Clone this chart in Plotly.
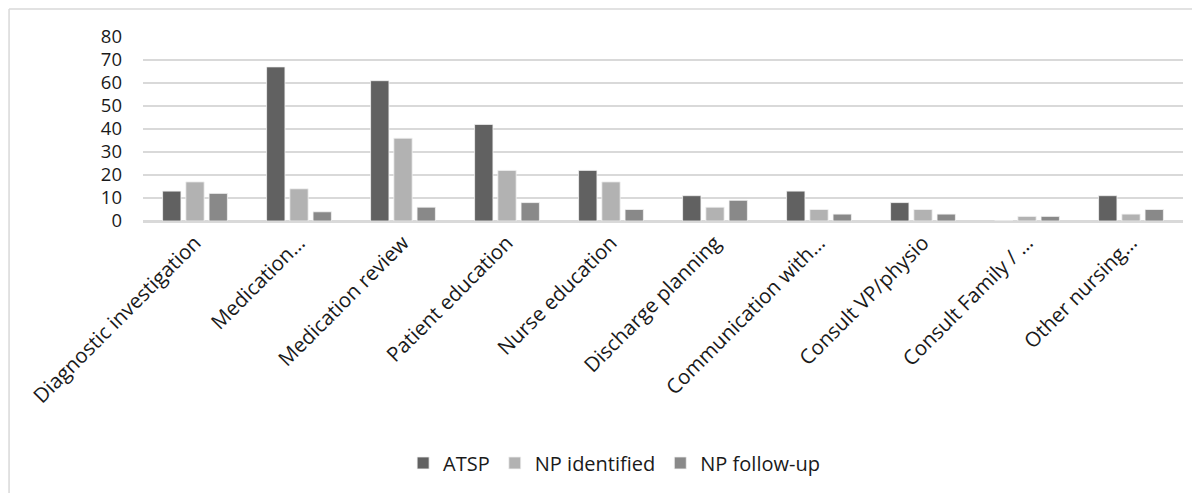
import plotly.graph_objects as go

categories = ["Diagnostic investigation", "Medication…", "Medication review", "Patient education",
              "Nurse education", "Discharge planning", "Communication with…", "Consult VP/physio",
              "Consult Family / …", "Other nursing…"]
atsp = [13, 67, 61, 42, 22, 11, 13, 8, 0, 11]
np_identified = [17, 14, 36, 22, 17, 6, 5, 5, 2, 3]
np_followup = [12, 4, 6, 8, 5, 9, 3, 3, 2, 5]

series = [("ATSP", atsp, "#616161"), ("NP identified", np_identified, "#b2b2b2"),
          ("NP follow-up", np_followup, "#898989")]

fig = go.Figure()
for name, vals, col in series:
    fig.add_trace(go.Bar(x=categories, y=vals, name=name,
                         marker=dict(color=col, line=dict(color="#f2f2f2", width=0.8))))

font_fam = "'Open Sans', sans-serif"
fig.update_layout(
    width=1200, height=493,
    margin=dict(l=135, r=25, t=29, b=280),
    paper_bgcolor="white", plot_bgcolor="white",
    barmode="group", bargap=0.33, bargroupgap=0.21,
    font=dict(family=font_fam, size=19, color="#1a1a1a"),
    xaxis=dict(tickangle=-45, showline=True, linecolor="#d9d9d9", linewidth=1.5,
               ticks="", tickfont=dict(size=20.5), automargin=False),
    yaxis=dict(range=[0, 80], dtick=10, showgrid=True, gridcolor="#d9d9d9", gridwidth=1.5,
               zeroline=True, zerolinecolor="#d9d9d9", zerolinewidth=1.5,
               tickfont=dict(size=18.5), ticklabelstandoff=20, automargin=False),
    legend=dict(orientation="h", x=0.453, xanchor="center", y=-1.315, yanchor="middle",
                font=dict(size=20), tracegroupgap=0),
    showlegend=True,
)
fig.add_shape(type="line", xref="paper", yref="paper", x0=-0.1288, x1=-0.1288, y0=-1.6, y1=1.152,
              line=dict(color="#d9d9d9", width=1.5))
fig.add_shape(type="line", xref="paper", yref="paper", x0=-0.1288, x1=1.2, y0=1.152, y1=1.152,
              line=dict(color="#d9d9d9", width=1.5))
fig.write_html("out.html")
